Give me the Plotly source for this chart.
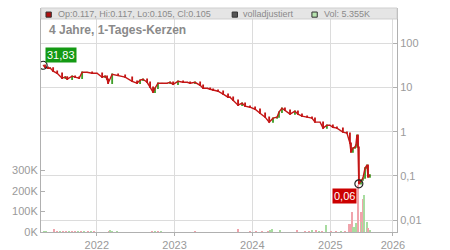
import numpy as np
import plotly.graph_objects as go

# ---- price (daily candles, sampled) ----
price_dates = [
    "2021-04-24", "2021-05-03", "2021-05-17", "2021-05-27", "2021-06-10", "2021-06-29",
    "2021-07-22", "2021-08-06", "2021-08-15", "2021-09-07", "2021-09-21", "2021-10-10",
    "2021-10-24", "2021-11-16", "2021-12-10", "2022-01-02", "2022-01-26", "2022-02-09",
    "2022-02-18", "2022-02-23", "2022-03-14", "2022-04-11", "2022-05-14", "2022-06-16",
    "2022-07-09", "2022-07-23", "2022-08-06", "2022-08-25", "2022-09-08", "2022-09-22",
    "2022-10-01", "2022-10-15", "2022-11-03", "2022-11-27", "2022-12-11", "2022-12-25",
    "2023-01-17", "2023-02-10", "2023-03-01", "2023-03-15", "2023-04-07", "2023-05-01",
    "2023-05-15", "2023-06-03", "2023-06-17", "2023-07-01", "2023-07-24", "2023-08-17",
    "2023-09-09", "2023-09-18", "2023-10-03", "2023-10-26", "2023-11-14", "2023-11-28",
    "2023-12-21", "2024-01-14", "2024-02-06", "2024-03-01", "2024-03-20", "2024-04-07",
    "2024-04-26", "2024-05-05", "2024-05-19", "2024-06-02", "2024-06-26", "2024-07-19",
    "2024-08-02", "2024-08-21", "2024-09-14", "2024-10-07", "2024-10-21", "2024-11-14",
    "2024-11-28", "2024-12-16", "2024-12-30", "2025-01-13", "2025-02-01", "2025-03-01",
    "2025-03-20", "2025-04-03", "2025-04-08", "2025-04-17", "2025-04-27", "2025-05-01",
    "2025-05-06", "2025-05-11", "2025-05-15", "2025-05-25", "2025-06-03", "2025-06-13",
    "2025-06-22", "2025-06-27", "2025-07-06",
]
price_close = [
    31.83, 28.7, 27.2, 27.5, 23.3, 21.0,
    16.2, 17.3, 15.4, 18.0, 17.1, 16.2,
    22.1, 22.1, 21.0, 21.0, 17.1, 18.0,
    15.4, 12.5, 19.9, 18.9, 17.1, 13.8,
    12.5, 14.6, 15.4, 13.1, 10.1, 7.81,
    9.62, 12.5, 12.5, 12.5, 13.1, 11.8,
    13.8, 13.1, 13.1, 12.5, 13.1, 11.2,
    9.62, 9.62, 9.13, 8.67, 8.23, 7.04,
    6.02, 6.0, 5.15, 3.97, 4.41, 3.77,
    3.58, 3.22, 2.62, 2.13, 1.64, 2.02,
    2.13, 2.76, 3.40, 3.06, 2.49, 2.90,
    2.49, 2.24, 2.13, 2.02, 1.64, 1.64,
    1.20, 1.40, 1.40, 1.26, 1.20, 0.975,
    0.925, 0.550, 0.344, 0.424, 0.447, 0.496,
    0.834, 0.447, 0.066, 0.080, 0.0889, 0.150,
    0.175, 0.094, 0.105,
]

# ---- volume (thousands), direction u=up, d=down ----
vol_dates = [
    "2021-04-29", "2021-05-08", "2021-06-15", "2021-06-29", "2021-07-13", "2021-07-27",
    "2021-08-10", "2021-08-24", "2021-09-07", "2021-09-21", "2021-10-05", "2021-10-19",
    "2021-11-02", "2021-11-21", "2021-12-05", "2021-12-19", "2022-02-28", "2022-03-04",
    "2022-03-14", "2022-04-06", "2022-09-17", "2022-10-01", "2022-10-16", "2022-10-30",
    "2023-04-07", "2023-10-24", "2023-12-21", "2024-01-18", "2024-02-15", "2024-03-14",
    "2024-03-24", "2024-04-02", "2024-05-10", "2024-07-29", "2024-09-04", "2024-09-23",
    "2024-10-07", "2024-10-26", "2024-11-09", "2024-11-23", "2024-12-12", "2025-01-04",
    "2025-01-27", "2025-02-20", "2025-03-10", "2025-03-29", "2025-04-08", "2025-04-12",
    "2025-04-17", "2025-04-26", "2025-05-04", "2025-05-13", "2025-05-23", "2025-05-28",
    "2025-06-02", "2025-06-09", "2025-06-21", "2025-06-28", "2025-07-06",
]
vol_k = [
    2, 3, 15, 3, 3, 3,
    2, 2, 3, 3, 3, 3,
    2, 2, 2, 2, 4, 6,
    3, 2, 2, 2, 2, 2,
    2, 13, 2, 3, 3, 4,
    9, 13, 5, 11, 3, 4,
    5, 7, 4, 3, 34, 3,
    2, 4, 3, 37, 40, 100,
    26, 26, 43, 230, 99, 50,
    160, 180, 50, 20, 5,
]
vol_dir = [
    "u", "u", "d", "d", "u", "d",
    "d", "u", "d", "d", "u", "d",
    "u", "d", "u", "d", "d", "u",
    "u", "u", "d", "u", "d", "u",
    "d", "d", "d", "d", "d", "d",
    "u", "u", "u", "d", "d", "d",
    "u", "d", "u", "d", "u", "d",
    "d", "u", "d", "d", "d", "d",
    "u", "u", "u", "d", "d", "u",
    "d", "u", "u", "d", "u",
]

vol_tick_vals = [0, 100, 200, 300]
vol_tick_text = ["0K", "100K", "200K", "300K"]
price_tick_vals = [0.01, 0.1, 1, 10, 100]
price_tick_text = ["0,01", "0,1", "1", "10", "100"]
year_tick_vals = ["2022-01-01", "2023-01-01", "2024-01-01", "2025-01-01", "2025-10-22"]
year_tick_text = ["2022", "2023", "2024", "2025", "2026"]

header_ohlc = "Op:0.117, Hi:0.117, Lo:0.105, Cl:0.105"
header_adj = "volladjustiert"
header_vol = "Vol: 5.355K"
title_text = "4 Jahre, 1-Tages-Kerzen"

RED = "#c41616"
GREEN = "#3f9e2a"
GRID = "#dcdcdc"
AXIS = "#b0b0b0"
TXT = "#9a9a9a"
FONT = "Liberation Sans, Arial, sans-serif"

opens = [price_close[0]] + price_close[:-1]
highs = [max(o, c) for o, c in zip(opens, price_close)]
lows = [min(o, c) for o, c in zip(opens, price_close)]
vol_colors = ["#a8dca0" if d == "u" else "#f0a4ac" for d in vol_dir]

i_low = int(np.argmin(price_close))

fig = go.Figure()
fig.add_trace(go.Bar(
    x=vol_dates, y=vol_k, marker=dict(color=vol_colors, line=dict(width=0)),
    width=5 * 86400000, yaxis="y", xaxis="x", hoverinfo="skip",
))
fig.add_trace(go.Scatter(
    x=price_dates, y=price_close, mode="lines", yaxis="y2",
    line=dict(color=RED, width=1.4), hoverinfo="skip",
))
fig.add_trace(go.Candlestick(
    x=price_dates, open=opens, high=highs, low=lows, close=price_close, yaxis="y2",
    increasing=dict(line=dict(color=GREEN, width=1.4), fillcolor=GREEN),
    decreasing=dict(line=dict(color=RED, width=1.4), fillcolor=RED),
    whiskerwidth=0, hoverinfo="skip",
))
fig.add_trace(go.Scatter(
    x=[price_dates[0], price_dates[i_low]], y=[price_close[0], price_close[i_low]],
    mode="markers", yaxis="y2",
    marker=dict(symbol="circle-open", size=8, color="#222", line=dict(width=1.2)),
    hoverinfo="skip",
))

fig.update_layout(
    width=450, height=250,
    margin=dict(l=41, r=53, t=8, b=18, autoexpand=False),
    paper_bgcolor="white", plot_bgcolor="white",
    showlegend=False,
    font=dict(family=FONT, size=11, color=TXT),
    bargap=0,
    xaxis=dict(
        type="date", range=["2021-04-14", "2025-11-10"], automargin=False,
        tickvals=year_tick_vals, ticktext=year_tick_text,
        showgrid=True, gridcolor=GRID, gridwidth=1,
        showline=True, linecolor=AXIS, linewidth=1,
        ticks="outside", ticklen=3, tickcolor=AXIS,
        tickfont=dict(size=11, color=TXT),
        rangeslider=dict(visible=False), zeroline=False,
    ),
    yaxis=dict(
        range=[0, 1093], side="left", automargin=False,
        tickvals=vol_tick_vals, ticktext=vol_tick_text,
        showgrid=False, zeroline=False,
        showline=True, linecolor=AXIS, linewidth=1,
        ticks="inside", ticklen=4, tickcolor=AXIS,
        tickfont=dict(size=11, color=TXT),
    ),
    yaxis2=dict(
        type="log", range=[-2.271, 2.799], side="right", overlaying="y", automargin=False,
        tickvals=price_tick_vals, ticktext=price_tick_text,
        showgrid=True, gridcolor=GRID, gridwidth=1, zeroline=False,
        showline=True, linecolor=AXIS, linewidth=1,
        ticks="inside", ticklen=4, tickcolor=AXIS,
        tickfont=dict(size=11, color=TXT),
    ),
)

# header band
fig.add_shape(type="rect", xref="paper", yref="paper", x0=0, x1=1, y0=0.951, y1=1,
              fillcolor="#e5e5e5", line=dict(color="#cfcfcf", width=1), layer="above")
squares = [(0.014, "#b01010"), (0.537, "#555555"), (0.761, "#b8e4b0")]
for x0, col in squares:
    fig.add_shape(type="rect", xref="paper", yref="paper", x0=x0, x1=x0 + 0.015,
                  y0=0.959, y1=0.982, fillcolor=col, line=dict(color="#333", width=1),
                  layer="above")
for xp, txt in [(0.042, header_ohlc), (0.562, header_adj), (0.789, header_vol)]:
    fig.add_annotation(x=xp, y=0.971, xref="paper", yref="paper", text=txt,
                       showarrow=False, xanchor="left", yanchor="middle",
                       font=dict(size=9, color="#8a8a8a", family=FONT))
fig.add_annotation(x=0.017, y=0.902, xref="paper", yref="paper", text="<b>" + title_text + "</b>",
                   showarrow=False, xanchor="left", yanchor="middle",
                   font=dict(size=12, color="#8a8a8a", family=FONT))

# price labels
fig.add_annotation(x=price_dates[0], y=np.log10(price_close[0]), xref="x", yref="y2",
                   text="31,83", showarrow=False, xanchor="left", yanchor="bottom",
                   xshift=2, yshift=2, bgcolor="#149a14", borderpad=1,
                   font=dict(size=11, color="white", family=FONT))
fig.add_annotation(x=price_dates[i_low], y=np.log10(price_close[i_low]), xref="x", yref="y2",
                   text="0,06", showarrow=False, xanchor="right", yanchor="top",
                   xshift=-2, yshift=-4, bgcolor="#cc0000", borderpad=1,
                   font=dict(size=11, color="white", family=FONT))

fig.write_html("out.html")
